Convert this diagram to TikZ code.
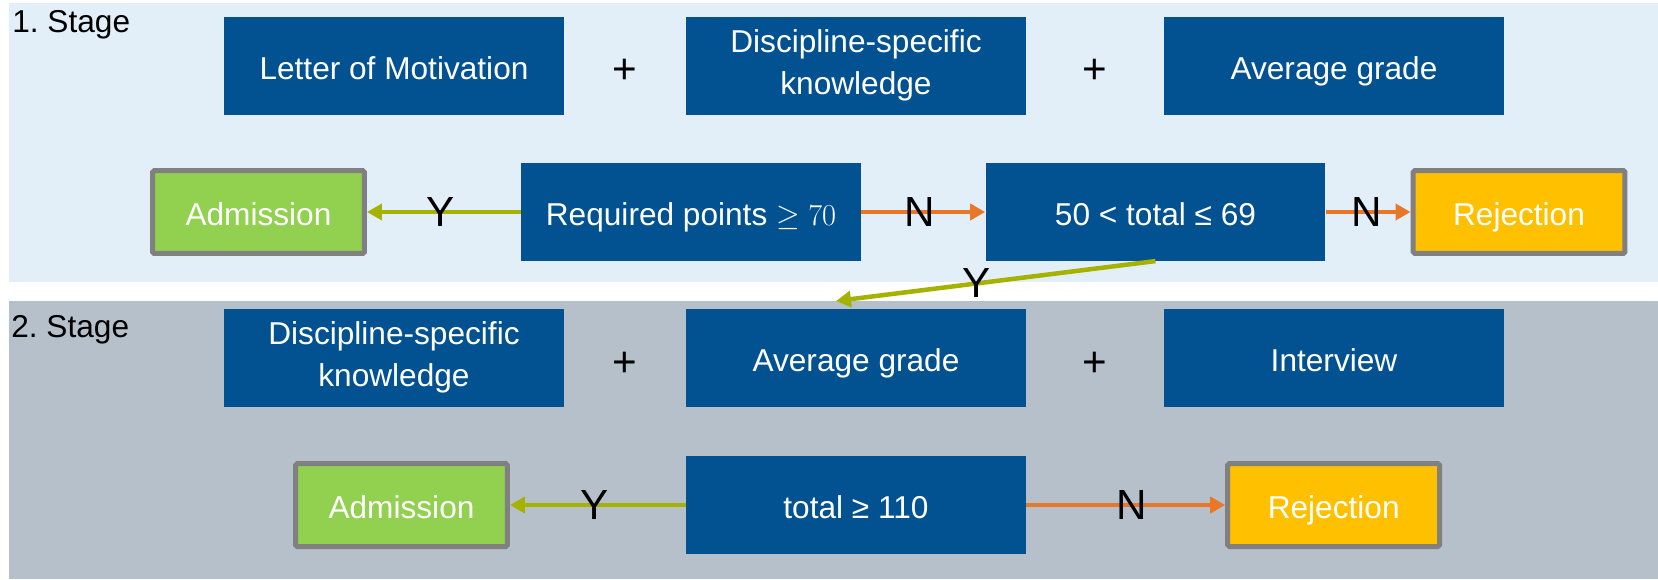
\documentclass[tikz,border=0pt]{standalone}
\usepackage[no-math]{fontspec}
\setmainfont{Liberation Sans}
\usepackage{tikz}
\usetikzlibrary{arrows.meta}

\definecolor{stageone}{RGB}{226,239,249}
\definecolor{stagetwo}{RGB}{182,192,202}
\definecolor{boxblue}{RGB}{2,82,146}
\definecolor{admitgreen}{RGB}{146,208,80}
\definecolor{rejectyellow}{RGB}{255,192,0}
\definecolor{framegray}{RGB}{128,128,128}
\definecolor{yesgreen}{RGB}{166,178,0}
\definecolor{noorange}{RGB}{232,119,40}
\newcommand{\boxstrut}{\rule[-0.25em]{0pt}{1.34em}}

\begin{document}
\begin{tikzpicture}[x=0.02cm, y=-0.02cm, every node/.style={font=\fontsize{18}{24.4}\selectfont},
    crit/.style={fill=boxblue, text=white, align=center, inner sep=0pt, minimum width=6.8cm, minimum height=1.95cm,
        execute at begin node=\boxstrut, execute at end node=\boxstrut},
    result/.style={draw=framegray, line width=0.1cm, rounded corners=1pt, text=white, inner sep=0pt, minimum width=4.24cm, minimum height=1.66cm,
        execute at begin node=\boxstrut},
    yesarrow/.style={draw=yesgreen, line width=0.09cm, -{Triangle[length=0.3cm, width=0.32cm]}},
    noarrow/.style={draw=noorange, line width=0.09cm, -{Triangle[length=0.3cm, width=0.32cm]}},
    yn/.style={font=\fontsize{24}{28}\selectfont, text=black, inner sep=0pt}]
    \useasboundingbox (0,0) rectangle (1658,579);
    \fill[stageone] (9,3) rectangle (1658,282);
    \fill[stagetwo] (9,301) rectangle (1658,579);
    \node[anchor=base west, inner sep=0pt] (st1) at (12,32) {1.\ Stage};
    \node[anchor=base west, inner sep=0pt] (st2) at (11,337) {2.\ Stage};
    \node[crit] (let1) at (394,66) {Letter of Motivation};
    \node[crit] (dis1) at (856,66) {Discipline-specific\\knowledge};
    \node[crit] (avg1) at (1334,66) {Average grade};
    \node[yn] (plus1) at (625,71) {+};
    \node[yn] (plus2) at (1095,71) {+};
    \node[crit] (req1) at (691,212) {Required points $\geq 70$};
    \node[crit] (tot1) at (1155.5,212) {50 < total ≤ 69};
    \node[result, fill=admitgreen] (adm1) at (258.5,212) {Admission};
    \node[result, fill=rejectyellow] (rej1) at (1519,212) {Rejection};
    \draw[yesarrow] (req1) -- node[yn, pos=0.52] {Y} (adm1);
    \draw[noarrow] (req1) -- node[yn, pos=0.47] {N} (tot1);
    \draw[noarrow] (tot1) -- node[yn, pos=0.48] {N} (rej1);
    \node[crit] (dis2) at (394,358) {Discipline-specific\\knowledge};
    \node[crit] (avg2) at (856,358) {Average grade};
    \node[crit] (int2) at (1334,358) {Interview};
    \node[yn] (plus3) at (625,364) {+};
    \node[yn] (plus4) at (1095,364) {+};
    \coordinate (ytip) at (836,301);
    \draw[yesarrow] (tot1.south) -- node[yn, pos=0.56] {Y} (ytip);
    \node[crit] (tot2) at (856,505) {total ≥ 110};
    \node[result, fill=admitgreen] (adm2) at (401.5,505) {Admission};
    \node[result, fill=rejectyellow] (rej2) at (1333.7,505) {Rejection};
    \draw[yesarrow] (tot2) -- node[yn, pos=0.52] {Y} (adm2);
    \draw[noarrow] (tot2) -- node[yn, pos=0.53] {N} (rej2);
\end{tikzpicture}
\end{document}
